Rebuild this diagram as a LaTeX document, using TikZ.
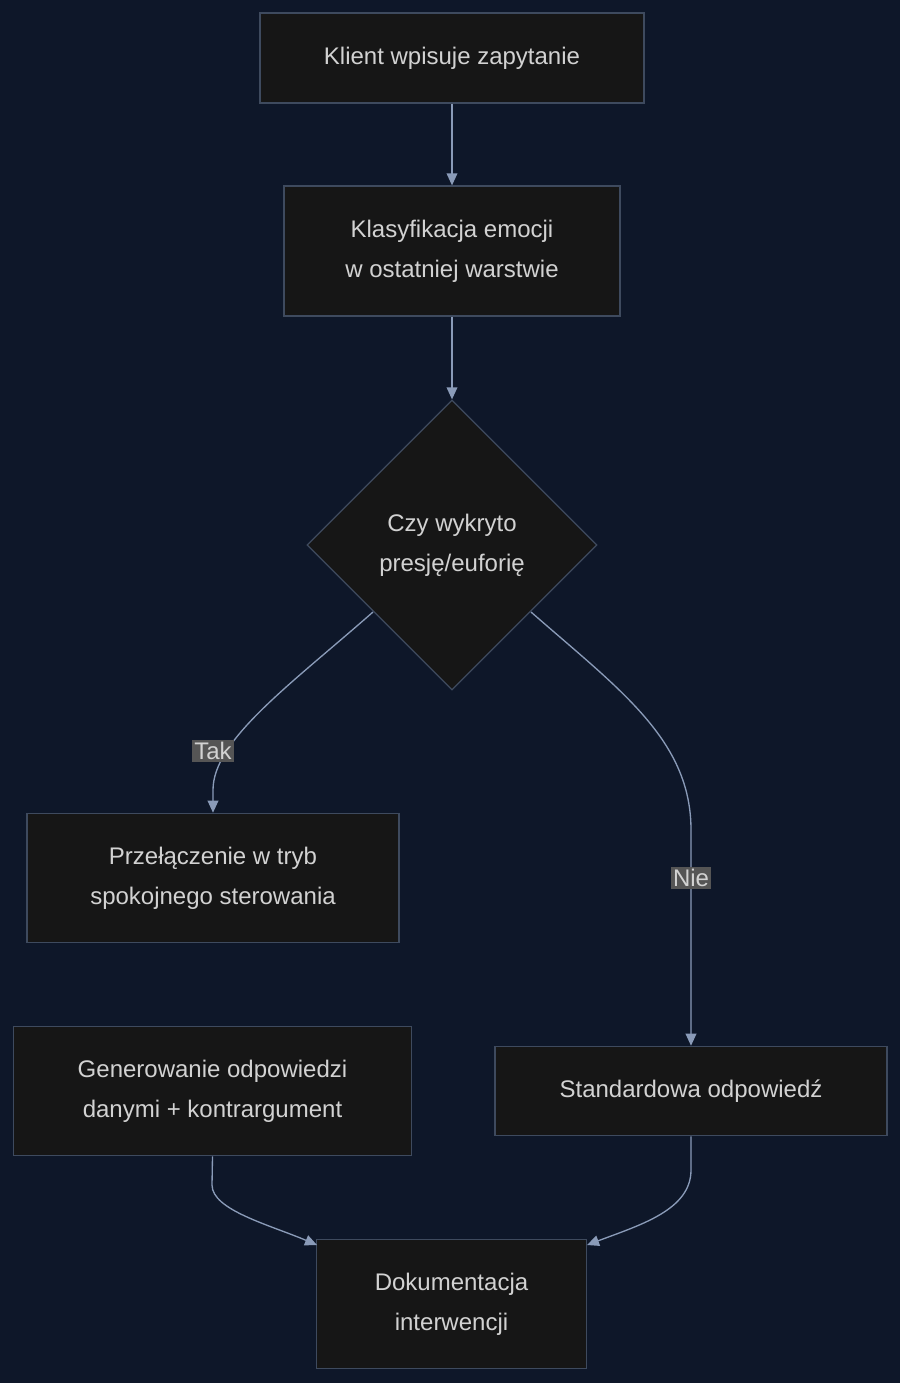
\documentclass[tikz,border=0pt]{standalone}
\usepackage{fontspec}
\setmainfont{Liberation Sans}
\usetikzlibrary{shapes.geometric,arrows.meta}
\definecolor{bg}{HTML}{0E1729}
\definecolor{boxf}{HTML}{161616}
\definecolor{boxd}{HTML}{3E4A5E}
\definecolor{txt}{HTML}{D2D2D2}
\definecolor{ln}{HTML}{8A9BB8}
\definecolor{lab}{HTML}{555555}
\begin{document}
\begin{tikzpicture}[x=0.75pt,y=-0.75pt,
  box/.style={draw=boxd,fill=boxf,text=txt,line width=0.9pt,font=\fontsize{18}{30}\selectfont,align=center,inner sep=0pt},
  dia/.style={diamond,draw=boxd,fill=boxf,text=txt,line width=0.9pt,font=\fontsize{18}{30}\selectfont,align=center,inner sep=0pt,minimum width=217.5pt,minimum height=217.5pt},
  ar/.style={draw=ln,line width=1pt,-{Triangle[length=9pt,width=8pt]}},
  lb/.style={fill=lab,text=txt,font=\fontsize{18}{22}\selectfont,inner sep=1.5pt}]
\fill[bg] (0,0) rectangle (900,1383);
\node[box,minimum width=288pt,minimum height=67.5pt] (a) at (452,58) {Klient wpisuje zapytanie};
\node[box,minimum width=252pt,minimum height=97.5pt] (b) at (452,251) {Klasyfikacja emocji\\w ostatniej warstwie};
\node[dia] (c) at (452,545) {Czy wykryto\\presję/euforię};
\node[box,minimum width=279pt,minimum height=97pt] (d) at (213,878) {Przełączenie w tryb\\spokojnego sterowania};
\node[box,minimum width=299pt,minimum height=97pt] (e) at (212.5,1091) {Generowanie odpowiedzi\\danymi + kontrargument};
\node[box,minimum width=294pt,minimum height=67pt] (f) at (691,1091) {Standardowa odpowiedź};
\node[box,minimum width=202pt,minimum height=97pt] (g) at (451.5,1304) {Dokumentacja\\interwencji};
\coordinate (cl) at (373,612);
\coordinate (cr) at (531,612);
\draw[ar] (a) -- (b);
\draw[ar] (b) -- (c);
\draw[ar] (cl) .. controls (290,685) and (213,740) .. (213,790) -- (d.north);
\draw[ar] (cr) .. controls (620,690) and (691,740) .. (691,830) -- (f.north);
\draw[ar] (e.south) -- (212,1185) .. controls (212,1210) and (270,1225) .. (317,1245);
\draw[ar] (f.south) -- (691,1170) .. controls (691,1210) and (640,1225) .. (587,1245);
\node[lb] (t) at (213,751) {Tak};
\node[lb] (n) at (691,878) {Nie};
\end{tikzpicture}
\end{document}
